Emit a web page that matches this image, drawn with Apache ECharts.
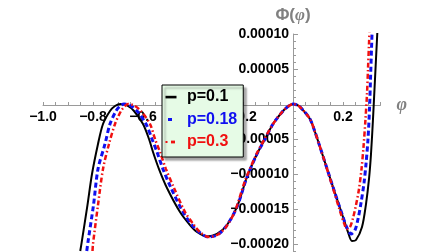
<!DOCTYPE html>
<html>
<head>
<meta charset="utf-8">
<script src="https://cdn.jsdelivr.net/npm/echarts@6/dist/echarts.min.js"></script>
<style>
  html, body { margin: 0; padding: 0; background: #fff; }
  #chart { width: 448px; height: 252px; }
</style>
</head>
<body>
<div id="chart"></div>
<script>
// values: phi on x, Phi(phi) on y
var names = ['p=0.1', 'p=0.18', 'p=0.3'];
var colors = ['#000000', '#1010f0', '#f01010'];

var phiP1 = [-0.851,-0.845,-0.822,-0.804,-0.780,-0.760,-0.732,-0.712,-0.690,-0.664,-0.636,-0.600,-0.576,-0.560,-0.536,-0.504,-0.452,-0.412,-0.384,-0.344,-0.304,-0.264,-0.224,-0.184,-0.144,-0.112,-0.080,-0.040,-0.020,0,0.020,0.036,0.068,0.088,0.108,0.160,0.200,0.220,0.236,0.252,0.276,0.292,0.304,0.312,0.320,0.326,0.332,0.338,0.341];
var valP1 = [-2.10e-4,-1.97e-4,-1.44e-4,-1.00e-4,-0.571e-4,-0.286e-4,-0.100e-4,-0.029e-4,0,-0.021e-4,-0.100e-4,-0.286e-4,-0.500e-4,-0.686e-4,-0.930e-4,-1.200e-4,-1.543e-4,-1.729e-4,-1.829e-4,-1.893e-4,-1.857e-4,-1.729e-4,-1.471e-4,-1.043e-4,-0.714e-4,-0.500e-4,-0.286e-4,-0.100e-4,-0.036e-4,0,-0.021e-4,-0.071e-4,-0.214e-4,-0.400e-4,-0.614e-4,-1.186e-4,-1.614e-4,-1.829e-4,-1.957e-4,-1.943e-4,-1.757e-4,-1.429e-4,-1.071e-4,-0.714e-4,-0.214e-4,0.214e-4,0.643e-4,1.071e-4,1.300e-4];

var phiP18 = [-0.825,-0.820,-0.798,-0.780,-0.752,-0.732,-0.708,-0.692,-0.676,-0.652,-0.624,-0.588,-0.564,-0.544,-0.520,-0.488,-0.440,-0.404,-0.376,-0.340,-0.300,-0.264,-0.224,-0.184,-0.144,-0.112,-0.080,-0.040,-0.020,0,0.020,0.036,0.068,0.088,0.108,0.160,0.200,0.216,0.232,0.248,0.260,0.272,0.284,0.292,0.300,0.306,0.310,0.314,0.318];
var valP18 = [-2.10e-4,-1.97e-4,-1.443e-4,-0.929e-4,-0.571e-4,-0.286e-4,-0.100e-4,-0.029e-4,0,-0.021e-4,-0.100e-4,-0.286e-4,-0.500e-4,-0.686e-4,-0.930e-4,-1.200e-4,-1.543e-4,-1.729e-4,-1.829e-4,-1.900e-4,-1.864e-4,-1.729e-4,-1.471e-4,-1.043e-4,-0.714e-4,-0.500e-4,-0.286e-4,-0.100e-4,-0.036e-4,0,-0.021e-4,-0.071e-4,-0.214e-4,-0.400e-4,-0.614e-4,-1.186e-4,-1.614e-4,-1.771e-4,-1.857e-4,-1.800e-4,-1.643e-4,-1.414e-4,-1.129e-4,-0.857e-4,-0.500e-4,-0.071e-4,0.357e-4,0.786e-4,1.214e-4];

var phiP3 = [-0.802,-0.800,-0.780,-0.760,-0.736,-0.712,-0.688,-0.672,-0.660,-0.636,-0.608,-0.572,-0.552,-0.532,-0.508,-0.476,-0.432,-0.396,-0.372,-0.336,-0.300,-0.268,-0.232,-0.192,-0.148,-0.116,-0.080,-0.040,-0.020,0,0.020,0.036,0.068,0.088,0.108,0.156,0.188,0.204,0.216,0.228,0.240,0.252,0.264,0.274,0.282,0.290,0.296,0.300,0.304,0.308];
var valP3 = [-2.10e-4,-2.00e-4,-1.443e-4,-0.929e-4,-0.571e-4,-0.286e-4,-0.100e-4,-0.029e-4,0,-0.021e-4,-0.100e-4,-0.286e-4,-0.500e-4,-0.686e-4,-0.930e-4,-1.200e-4,-1.543e-4,-1.729e-4,-1.829e-4,-1.900e-4,-1.864e-4,-1.757e-4,-1.529e-4,-1.100e-4,-0.729e-4,-0.514e-4,-0.286e-4,-0.100e-4,-0.036e-4,0,-0.021e-4,-0.071e-4,-0.214e-4,-0.400e-4,-0.614e-4,-1.157e-4,-1.529e-4,-1.700e-4,-1.786e-4,-1.757e-4,-1.629e-4,-1.443e-4,-1.214e-4,-0.929e-4,-0.614e-4,-0.214e-4,0.143e-4,0.500e-4,0.857e-4,1.214e-4];

function pairs(xs, ys) {
  var out = [];
  for (var i = 0; i < xs.length; i++) out.push([xs[i], ys[i]]);
  return out;
}

// little legend glyphs, drawn as svg images
function glyph(body) {
  return 'image://data:image/svg+xml;charset=utf-8,' + encodeURIComponent(
    '<svg xmlns="http://www.w3.org/2000/svg" width="12" height="14" viewBox="0 0 12 14">' + body + '</svg>');
}
var icons = [
  glyph('<rect x="0.5" y="5.8" width="11" height="2.6" fill="' + colors[0] + '"/>'),
  glyph('<rect x="3" y="5.5" width="4" height="3" fill="' + colors[1] + '"/>'),
  glyph('<rect x="0.5" y="6" width="2" height="2" fill="' + colors[2] + '"/><rect x="6" y="5.6" width="4" height="2.8" fill="' + colors[2] + '"/>')
];

var myChart = echarts.init(document.getElementById('chart'), null, { renderer: 'canvas' });

var axisGray = '#9a9a9a';
var labelFont = { fontSize: 14, fontWeight: 'bold', color: '#000', fontFamily: 'Liberation Sans' };

// grid spans phi -1..0.35 and Phi -0.00025..0.0001; zero lines sit at x=293, y=105
var gridLeft = 43, gridTop = 34, gridBottomPx = 279;

var option = {
  animation: false,
  grid: { left: gridLeft, right: 67.5, top: gridTop, bottom: 252 - gridBottomPx, containLabel: false, outerBoundsMode: 'none' },
  legend: {
    left: 162,
    top: 85,
    orient: 'vertical',
    padding: [4, 6, 7, 3],
    itemWidth: 12,
    itemHeight: 14,
    itemGap: 6.5,
    backgroundColor: '#e6fbe6',
    borderColor: '#000',
    borderWidth: 1,
    shadowColor: 'rgba(0,0,0,0.35)',
    shadowBlur: 2,
    shadowOffsetX: 3,
    shadowOffsetY: 3,
    textStyle: { fontSize: 16, fontWeight: 'bold', fontFamily: 'Liberation Sans', padding: [0, 0, 0, 5] },
    data: [
      { name: names[0], icon: icons[0], textStyle: { color: colors[0] } },
      { name: names[1], icon: icons[1], textStyle: { color: colors[1] } },
      { name: names[2], icon: icons[2], textStyle: { color: colors[2] } }
    ]
  },
  xAxis: {
    type: 'value',
    min: -1,
    max: 0.35,
    interval: 0.05,
    position: 'bottom',
    offset: -(gridBottomPx - 105),
    name: 'φ',
    nameLocation: 'end',
    nameGap: 16,
    nameTextStyle: { color: '#808080', fontSize: 18, fontWeight: 'bold', fontStyle: 'italic', fontFamily: 'Liberation Serif' },
    axisLine: { onZero: false, lineStyle: { color: axisGray, width: 1 } },
    axisTick: { inside: true, length: 3, lineStyle: { color: axisGray } },
    splitLine: { show: false },
    axisLabel: Object.assign({
      margin: 5,
      formatter: function (v) {
        var k = Math.round(v / 0.2);
        if (k === 0 || Math.abs(v - k * 0.2) > 1e-6) return '';
        return (k * 0.2).toFixed(1).replace('-', '\u2212');
      }
    }, labelFont)
  },
  yAxis: {
    type: 'value',
    min: -0.00025,
    max: 0.0001,
    interval: 0.00005,
    position: 'left',
    offset: -(293 - gridLeft),
    name: '{a|Φ(}{b|φ}{a|)}',
    nameLocation: 'end',
    nameGap: 10,
    nameTextStyle: {
      color: '#808080',
      rich: {
        a: { fontSize: 17, fontWeight: 'bold', color: '#808080', fontFamily: 'Liberation Sans' },
        b: { fontSize: 17, fontWeight: 'bold', fontStyle: 'italic', color: '#808080', fontFamily: 'Liberation Serif' }
      }
    },
    axisLine: { onZero: false, lineStyle: { color: axisGray, width: 1 } },
    axisTick: { inside: true, length: 5, lineStyle: { color: axisGray } },
    minorTick: { show: true, splitNumber: 5, length: 3, lineStyle: { color: axisGray } },
    splitLine: { show: false },
    axisLabel: Object.assign({
      margin: 4,
      formatter: function (v) {
        if (Math.abs(v) < 1e-12) return '';
        return v.toFixed(5).replace('-', '\u2212');
      }
    }, labelFont)
  },
  series: [
    {
      name: names[0], type: 'line', symbol: 'none', smooth: 0.3, clip: true,
      itemStyle: { color: colors[0] },
      lineStyle: { color: colors[0], width: 2, type: 'solid' },
      data: pairs(phiP1, valP1)
    },
    {
      name: names[1], type: 'line', symbol: 'none', smooth: 0.3, clip: true,
      itemStyle: { color: colors[1] },
      lineStyle: { color: colors[1], width: 3, type: [5, 3] },
      data: pairs(phiP18, valP18)
    },
    {
      name: names[2], type: 'line', symbol: 'none', smooth: 0.3, clip: true,
      itemStyle: { color: colors[2] },
      lineStyle: { color: colors[2], width: 2.5, type: [5, 2.5, 1.5, 2.5] },
      data: pairs(phiP3, valP3)
    }
  ]
};

myChart.setOption(option);
window.addEventListener('resize', function () {
  myChart.resize();
});
</script>
</body>
</html>
